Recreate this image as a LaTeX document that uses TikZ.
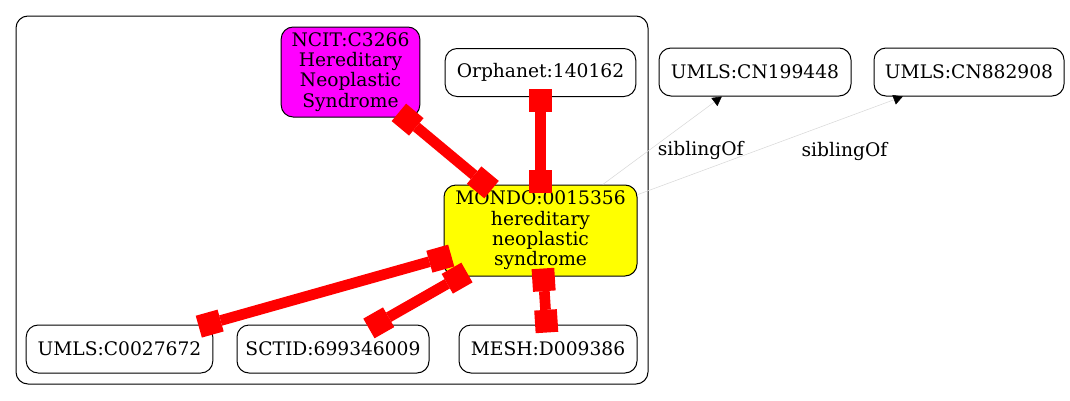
\documentclass[tikz,border=0pt]{standalone}
\usepackage{fontspec}
\setmainfont{DejaVu Serif}
\usetikzlibrary{arrows.meta,positioning}
\definecolor{xrefred}{HTML}{FF0000}
\definecolor{sibgray}{HTML}{D8D8D8}
\definecolor{ncitfill}{HTML}{FF00FF}
\definecolor{mondofill}{HTML}{FFFF00}

\begin{document}
\begin{tikzpicture}[x=0.75pt,y=-0.75pt,
  term/.style={draw=black,rounded corners=9pt,line width=.75pt,fill=white,align=center,inner sep=2pt,font=\fontsize{14}{15.2}\selectfont,minimum height=36pt},
  xedge/.style={{Square[length=17pt,width=17pt,line width=0pt]}-{Square[length=17pt,width=17pt,line width=0pt]},xrefred,line width=8pt,shorten <=-6pt,shorten >=-6pt},
  sib/.style={-{Triangle[length=7pt,width=7.5pt,color=black]},sibgray,line width=.4pt},
  elabel/.style={font=\fontsize{14}{15.2}\selectfont,text=black}]
 \useasboundingbox (0,0) rectangle (1070,400);
 \draw[rounded corners=9pt,line width=.75pt] (16,16) rectangle (648,384);
 \node[term,fill=ncitfill,minimum width=104pt,minimum height=67.5pt] (ncit) at (350.5,72) {NCIT:C3266\\Hereditary\\Neoplastic\\Syndrome};
 \node[term,minimum width=143pt] (orph) at (540.5,72.5) {Orphanet:140162};
 \node[term,fill=mondofill,minimum width=144.75pt,minimum height=68.25pt] (mondo) at (540.5,230.5) {MONDO:0015356\\hereditary\\neoplastic\\syndrome};
 \node[term,minimum width=140pt] (umls) at (119.5,349) {UMLS:C0027672};
 \node[term,minimum width=144pt] (sctid) at (333,349) {SCTID:699346009};
 \node[term,minimum width=133.5pt] (mesh) at (548,349) {MESH:D009386};
 \node[term,minimum width=144pt] (cn1) at (755,72) {UMLS:CN199448};
 \node[term,minimum width=142.5pt] (cn2) at (969,72) {UMLS:CN882908};
 \draw[xedge] (ncit) -- (mondo);
 \draw[xedge] (orph) -- (mondo);
 \foreach \leaf in {umls,sctid,mesh}
   \draw[xedge] (mondo) -- (\leaf);
 \draw[sib] (mondo) -- node[elabel,pos=.39,anchor=west,xshift=3pt]{siblingOf} (cn1);
 \draw[sib] (mondo) -- node[elabel,pos=.78,yshift=-24.75pt]{siblingOf} (cn2);
\end{tikzpicture}
\end{document}
